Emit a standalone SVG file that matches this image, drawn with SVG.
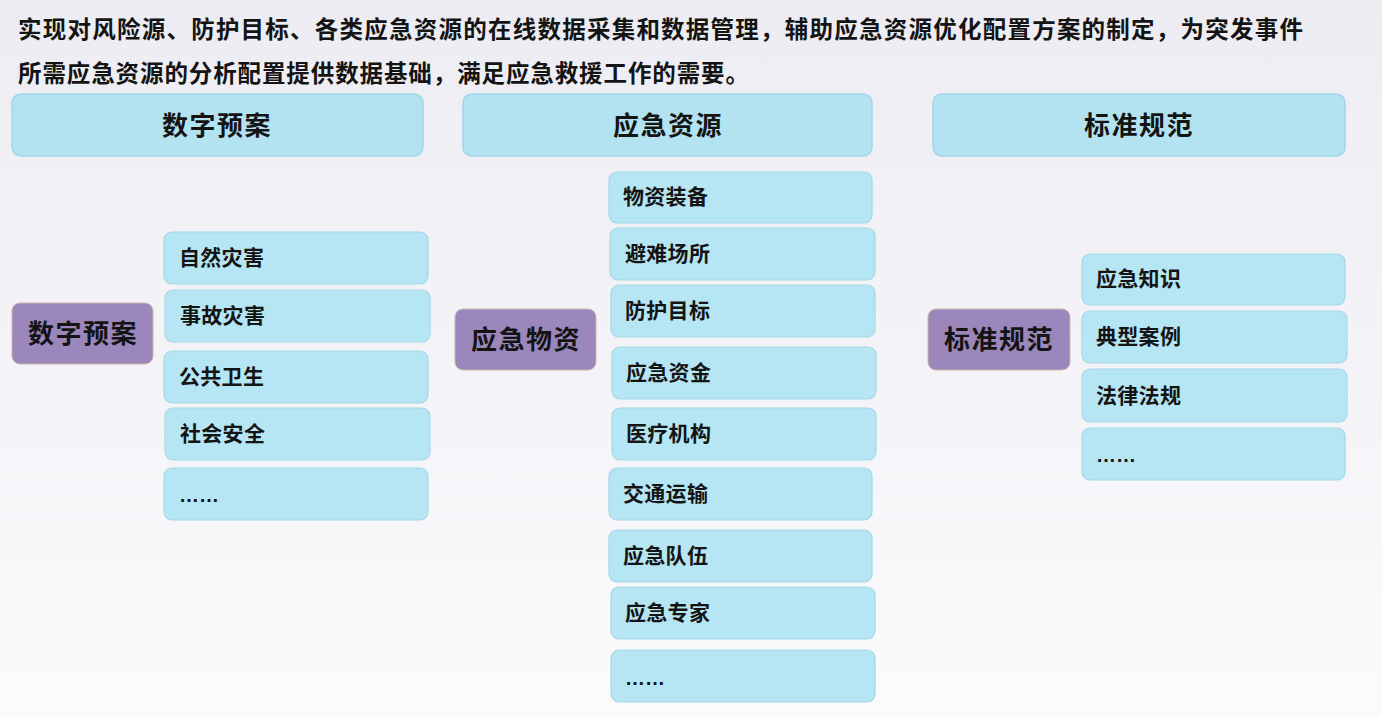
<svg xmlns="http://www.w3.org/2000/svg" width="1382" height="718" viewBox="0 0 1382 718">
<defs>
<linearGradient id="bg" x1="0" y1="0" x2="0" y2="1">
<stop offset="0" stop-color="#ececf2"/>
<stop offset="1" stop-color="#fbfbfd"/>
</linearGradient>
<style>
.hd{fill:#b3e3f0;stroke:#a0d6ea;stroke-width:1.5}
.it{fill:#b6e6f3;stroke:#a3d7e8;stroke-width:1.2}
.pp{fill:#9b87bb;stroke:#c9b9a8;stroke-width:1}
text{font-family:"Noto Sans CJK SC","Noto Sans",sans-serif;font-weight:bold;fill:#141414}
.t{font-size:23.5px}
.h{font-size:26px;letter-spacing:1.5px;text-anchor:middle}
.p{font-size:26px;letter-spacing:1.5px;text-anchor:middle}
.i{font-size:21px;letter-spacing:0.3px}
.d{font-family:"Liberation Sans",sans-serif;font-size:20px}
</style>
</defs>
<rect width="1382" height="718" fill="url(#bg)"/>
<g id="intro">
<text class="t" x="18" y="38" textLength="1285" lengthAdjust="spacing">实现对风险源、防护目标、各类应急资源的在线数据采集和数据管理，辅助应急资源优化配置方案的制定，为突发事件</text>
<text class="t" x="18" y="82" textLength="731" lengthAdjust="spacing">所需应急资源的分析配置提供数据基础，满足应急救援工作的需要。</text>
</g>
<g id="connectors"></g>
<g id="header-plan"><rect class="hd" x="12" y="94" width="411" height="62" rx="9"/><text class="h" x="217" y="135">数字预案</text></g>
<g id="header-resource"><rect class="hd" x="463" y="94" width="409" height="62" rx="9"/><text class="h" x="668" y="135">应急资源</text></g>
<g id="header-standard"><rect class="hd" x="933" y="94" width="412" height="62" rx="9"/><text class="h" x="1139" y="135">标准规范</text></g>

<g id="plan"><rect class="pp" x="12" y="303" width="141" height="61" rx="8"/><text class="p" x="83" y="343">数字预案</text></g>
<g id="plan-1"><rect class="it" x="164" y="232" width="264" height="52" rx="8"/><text class="i" x="179" y="265">自然灾害</text></g>
<g id="plan-2"><rect class="it" x="165" y="290" width="265" height="52" rx="8"/><text class="i" x="180" y="323">事故灾害</text></g>
<g id="plan-3"><rect class="it" x="164" y="351" width="264" height="52" rx="8"/><text class="i" x="179" y="384">公共卫生</text></g>
<g id="plan-4"><rect class="it" x="165" y="408" width="265" height="52" rx="8"/><text class="i" x="180" y="441">社会安全</text></g>
<g id="plan-5"><rect class="it" x="164" y="468" width="264" height="52" rx="8"/><text class="d" x="179" y="502">……</text></g>

<g id="material"><rect class="pp" x="455" y="309" width="141" height="61" rx="8"/><text class="p" x="526" y="349">应急物资</text></g>
<g id="mat-1"><rect class="it" x="609" y="172" width="263" height="51" rx="8"/><text class="i" x="623" y="204">物资装备</text></g>
<g id="mat-2"><rect class="it" x="610" y="228" width="265" height="52" rx="8"/><text class="i" x="625" y="261">避难场所</text></g>
<g id="mat-3"><rect class="it" x="611" y="285" width="264" height="52" rx="8"/><text class="i" x="625" y="318">防护目标</text></g>
<g id="mat-4"><rect class="it" x="612" y="347" width="264" height="52" rx="8"/><text class="i" x="626" y="380">应急资金</text></g>
<g id="mat-5"><rect class="it" x="612" y="408" width="264" height="52" rx="8"/><text class="i" x="626" y="441">医疗机构</text></g>
<g id="mat-6"><rect class="it" x="609" y="468" width="263" height="52" rx="8"/><text class="i" x="623" y="501">交通运输</text></g>
<g id="mat-7"><rect class="it" x="609" y="530" width="263" height="52" rx="8"/><text class="i" x="623" y="563">应急队伍</text></g>
<g id="mat-8"><rect class="it" x="611" y="587" width="264" height="52" rx="8"/><text class="i" x="625" y="620">应急专家</text></g>
<g id="mat-9"><rect class="it" x="611" y="650" width="264" height="52" rx="8"/><text class="d" x="625" y="685">……</text></g>

<g id="standard"><rect class="pp" x="928" y="309" width="142" height="61" rx="8"/><text class="p" x="999" y="349">标准规范</text></g>
<g id="std-1"><rect class="it" x="1082" y="254" width="263" height="51" rx="8"/><text class="i" x="1096" y="286">应急知识</text></g>
<g id="std-2"><rect class="it" x="1082" y="311" width="265" height="52" rx="8"/><text class="i" x="1096" y="344">典型案例</text></g>
<g id="std-3"><rect class="it" x="1082" y="369" width="265" height="53" rx="8"/><text class="i" x="1096" y="403">法律法规</text></g>
<g id="std-4"><rect class="it" x="1082" y="428" width="263" height="52" rx="8"/><text class="d" x="1096" y="462">……</text></g>
</svg>
